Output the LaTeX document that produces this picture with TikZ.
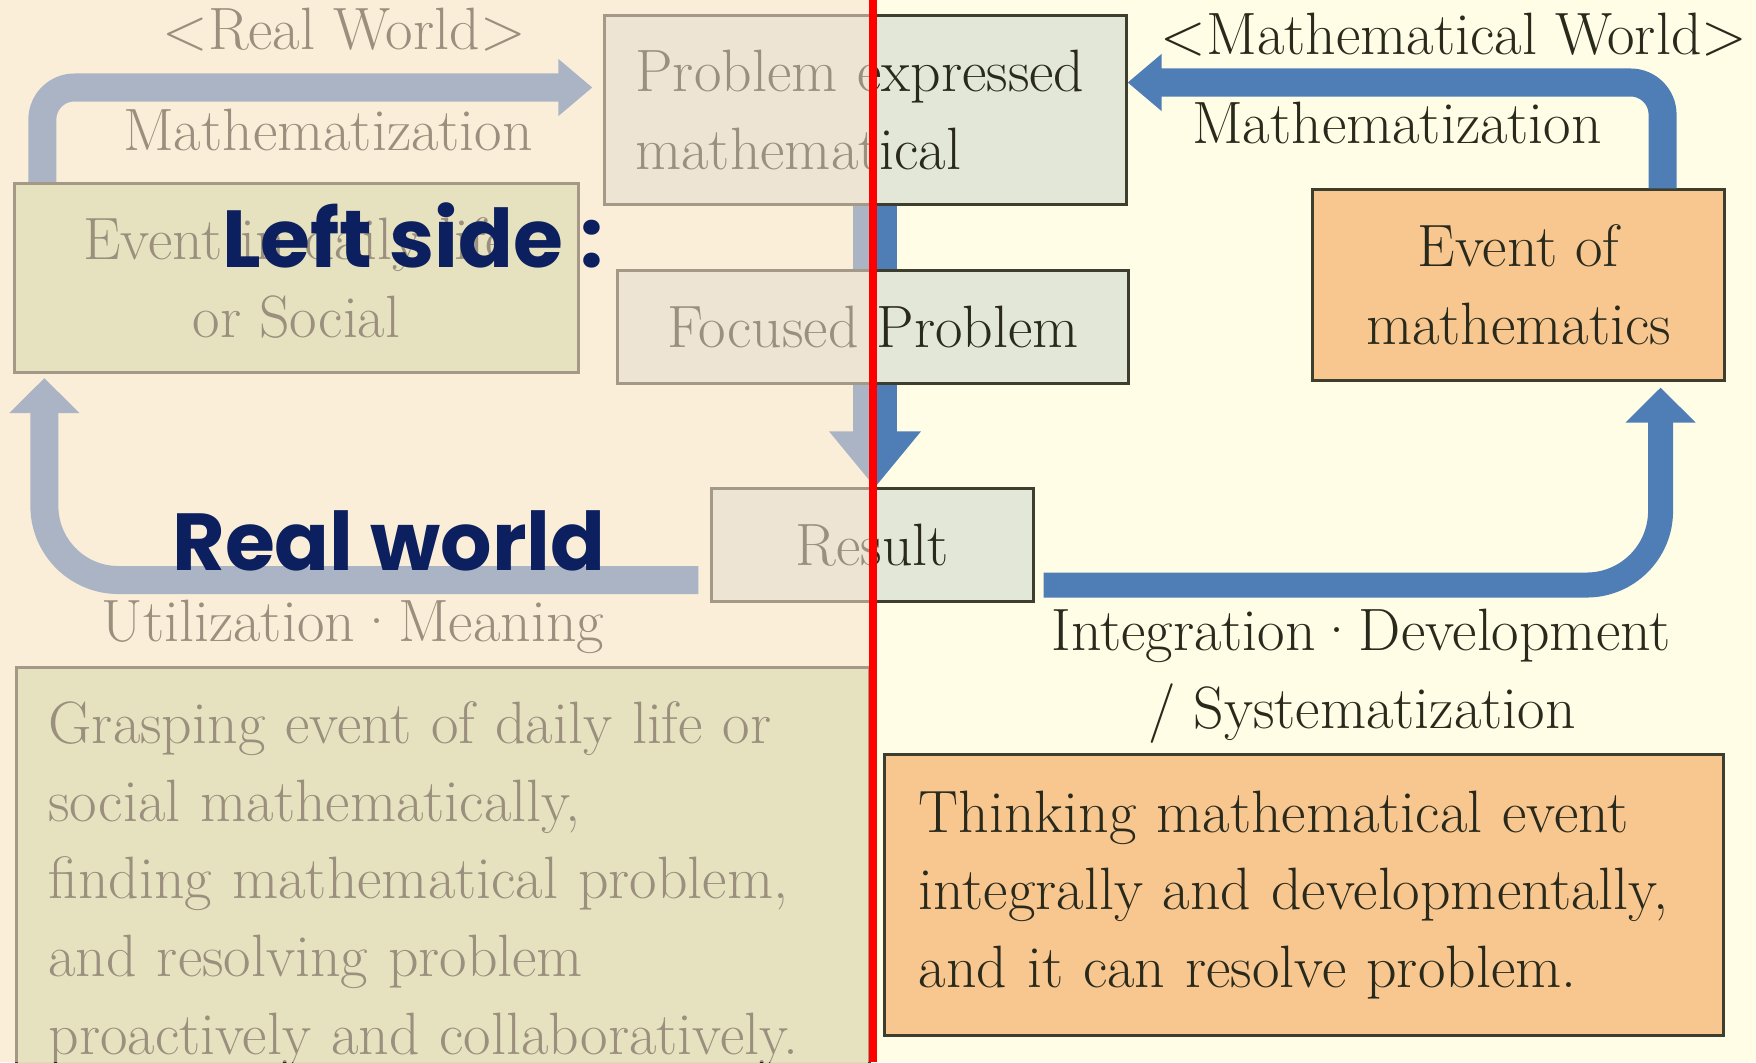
\documentclass[tikz,border=0pt]{standalone}
\usepackage{fontspec}
\usetikzlibrary{arrows.meta}
\newfontfamily\ovfont{Poppins}
\newcommand\bodysize{\fontsize{17}{22.1}\selectfont}
\definecolor{bgright}{HTML}{FFFDE6}
\definecolor{fadecol}{HTML}{F8E2D0}
\definecolor{greyfill}{HTML}{E2E7D7}
\definecolor{orangefill}{HTML}{F7C78F}
\definecolor{olivefill}{HTML}{D2E4AE}
\definecolor{boxline}{HTML}{3E3E2E}
\definecolor{ink}{HTML}{2A2A1C}
\definecolor{flowblue}{HTML}{4F7EB6}
\definecolor{navy}{HTML}{0C1F5E}

\begin{document}
\begin{tikzpicture}[x=0.01cm,y=-0.01cm,
  every node/.style={font=\bodysize,text=ink,inner sep=0pt},
  box/.style={draw=boxline,line width=0.85pt},
  greybox/.style={box,fill=greyfill},
  orangebox/.style={box,fill=orangefill},
  olivebox/.style={box,fill=olivefill},
  lbl/.style={text height=0.7em,text depth=0.2em},
  flow/.style={draw=flowblue,line width=0.28cm,rounded corners=0.32cm,-{Triangle[width=0.55cm,length=0.34cm]}},
  upflow/.style={flow,rounded corners=0.74cm,-{Triangle[width=0.68cm,length=0.35cm]}},
  downflow/.style={flow,line width=0.44cm,-{Triangle[width=0.88cm,length=0.56cm]}},
  overlaytext/.style={font=\ovfont\bfseries\fontsize{23}{27}\selectfont,text=navy}]
\useasboundingbox (0,0) rectangle (1756,1062);
\clip (0,0) rectangle (1756,1062);
\fill[bgright] (0,0) rectangle (1756,1062);
% boxes
\node[greybox,minimum width=5.21cm,minimum height=1.89cm,text width=4.6cm,align=left] (prob) at (865.5,110) {Problem expressed\\mathematical};
\node[olivebox,minimum width=5.63cm,minimum height=1.89cm,align=center] (evdaily) at (296.5,278) {Event in daily life\\or Social};
\node[orangebox,minimum width=4.11cm,minimum height=1.90cm,align=center] (evmath) at (1518.5,285) {Event of\\mathematics};
\node[greybox,minimum width=3.21cm,minimum height=1.12cm] (res) at (872.5,545) {Result};
% arrows
\coordinate (downx) at (875,0);
\draw[downflow] (prob.south -| downx) -- (res.north -| downx);
\draw[flow] ([xshift=0.29cm]evdaily.north west) |- ([xshift=-0.11cm,yshift=0.225cm]prob.west);
\draw[flow] ([xshift=-0.63cm]evmath.north east) |- ([yshift=0.275cm]prob.east);
\draw[upflow] ([xshift=-0.12cm,yshift=-0.35cm]res.west) -| ([xshift=0.31cm,yshift=-0.04cm]evdaily.south west);
\draw[upflow,line width=0.25cm] ([xshift=0.09cm,yshift=-0.4cm]res.east) -| ([xshift=-0.65cm,yshift=-0.06cm]evmath.south east);
\node[greybox,minimum width=5.10cm,minimum height=1.12cm] (focus) at (873,327) {Focused Problem};
\node[orangebox,minimum width=8.38cm,minimum height=2.80cm,text width=7.7cm,align=left] (think) at (1304,895) {Thinking mathematical event\\integrally and developmentally,\\and it can resolve problem.};
\node[olivebox,anchor=north west,inner xsep=0.32cm,inner ysep=0.34cm,text width=7.89cm,align=left] (grasp) at (15,666) {Grasping event of daily life or\\social mathematically,\\finding mathematical problem,\\and resolving problem\\proactively and collaboratively.};
% labels
\node[lbl] (realw) at (344,41) {<Real World>};
\node[lbl] (mathw) at (1454,46) {<Mathematical World>};
\node[lbl] (mzleft) at (328,142) {Mathematization};
\node[lbl] (mzright) at (1397,135) {Mathematization};
\node[lbl] (utilleft) at (353,633) {Utilization·Meaning};
\node[lbl] (integright) at (1361,642) {Integration·Development};
\node[lbl] (systright) at (1362,720) {/ Systematization};
% fade of the left half
\fill[fadecol,opacity=0.55] (0,0) rectangle (871,1062);
\draw[red,line width=0.08cm] (873,0) -- (873,1062);
\node[overlaytext] (leftside) at (413,235) {Left side :};
\node[overlaytext] (realworld) at (389,541) {Real world};
\end{tikzpicture}
\end{document}
